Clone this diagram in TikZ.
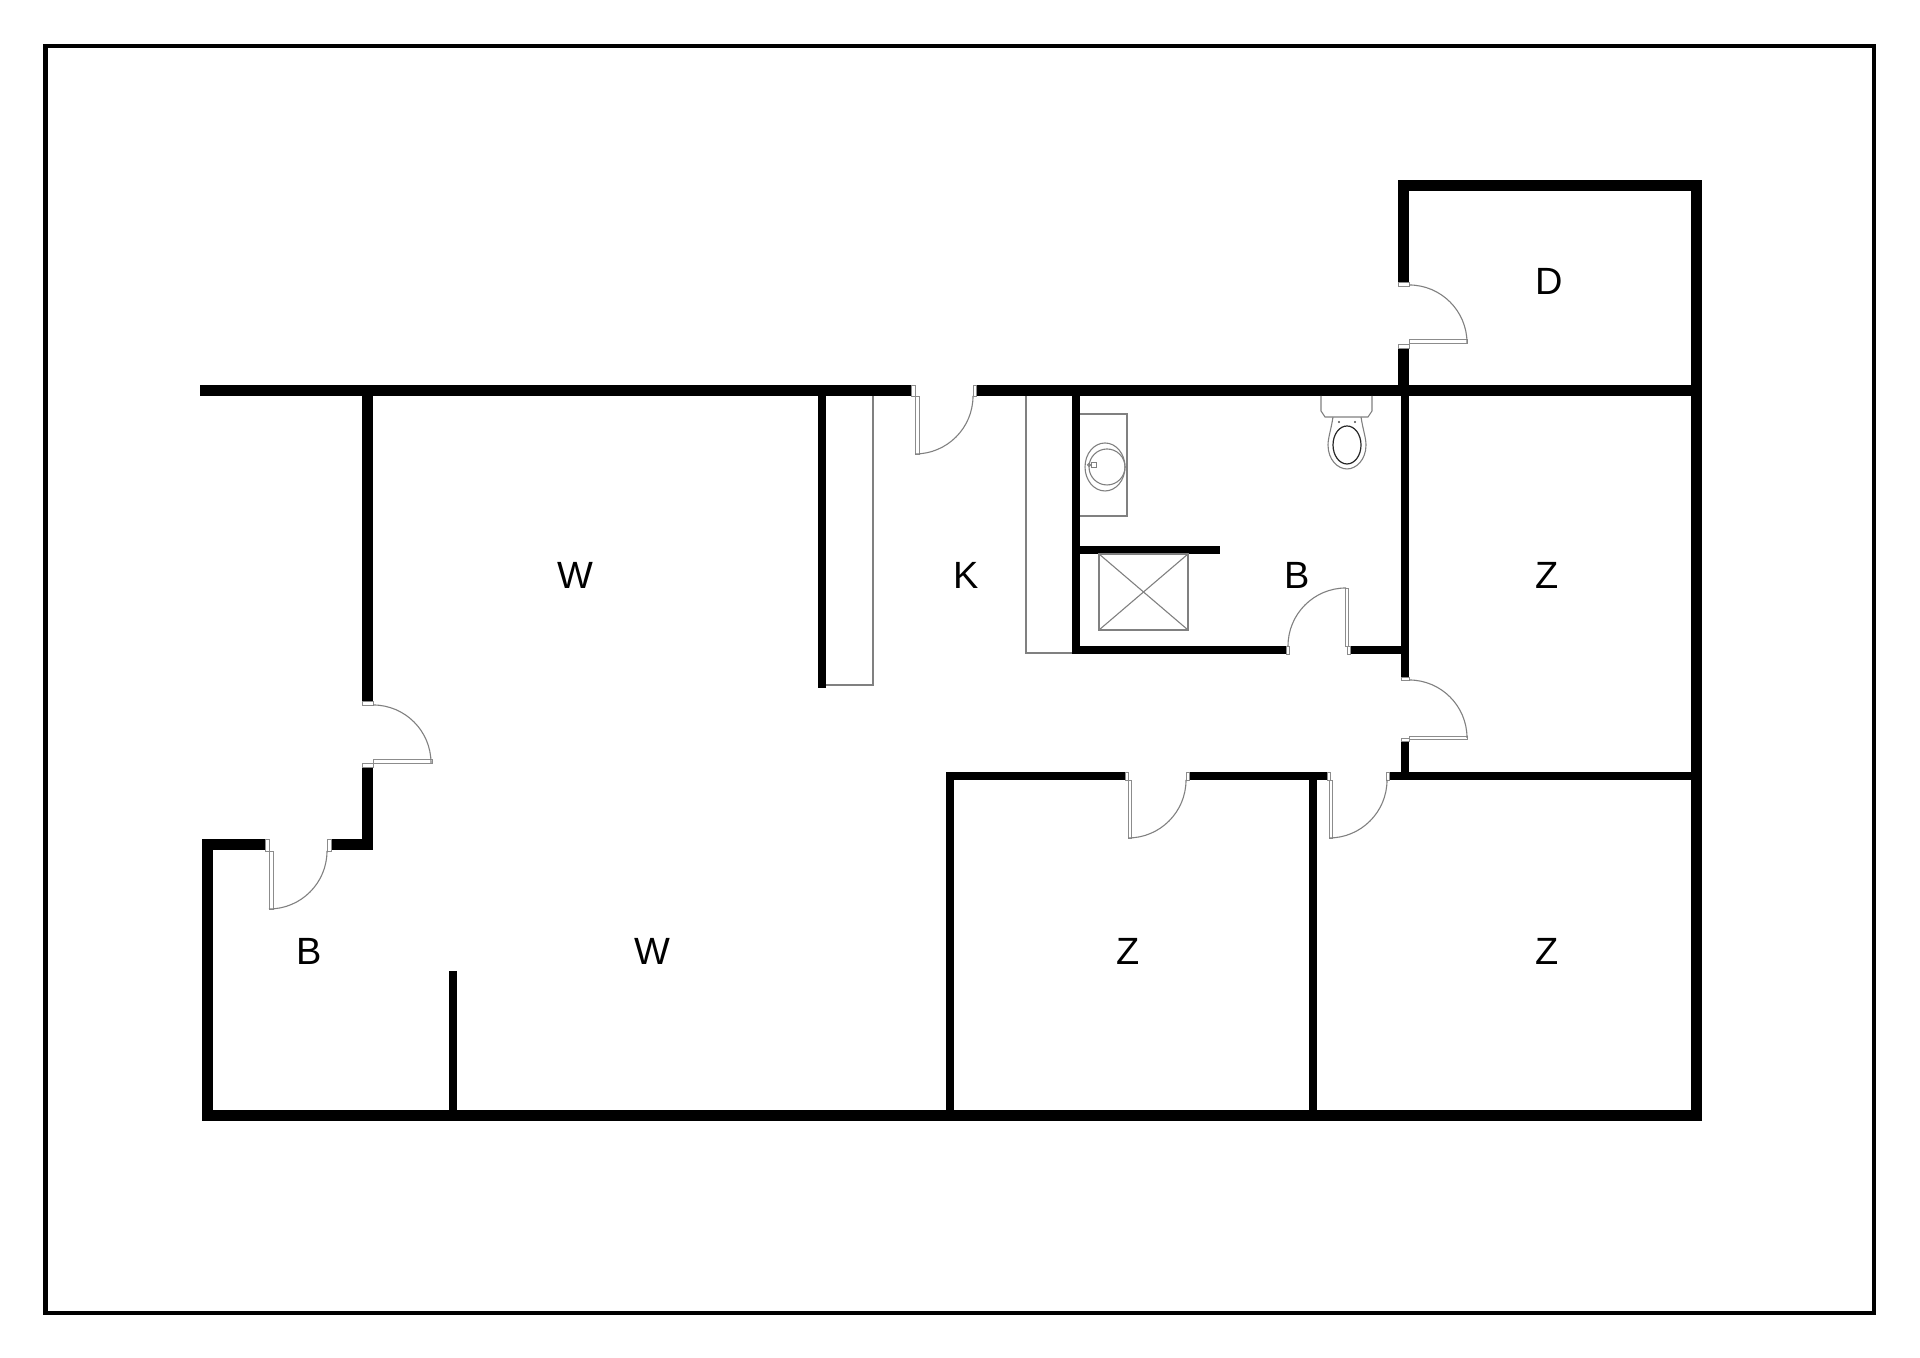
\documentclass[tikz,border=0pt]{standalone}
\usepackage{fontspec}
\setmainfont{Liberation Sans}
\tikzset{
  wall/.style={line width=0.11cm, miter limit=10},
  thinwall/.style={line width=0.08cm, miter limit=10},
  fixture/.style={line width=0.011cm, color=black!50},
  doorpart/.style={line width=0.008cm, color=black!45, fill=white},
  room/.style={font=\fontsize{10.8}{13}\selectfont, inner sep=0pt},
}
\begin{document}
\begin{tikzpicture}
\useasboundingbox (0, 0) rectangle (19.2, 13.58);
\draw[line width=0.045cm] (0.455, 0.45) rectangle (18.74, 13.12);
\draw[wall] (14.035, 10.75) -- (14.035, 11.725) -- (16.965, 11.725) -- (16.965, 2.425) -- (2.075, 2.425) -- (2.075, 5.13) -- (2.65, 5.13);
\draw[wall] (3.31, 5.13) -- (3.675, 5.13) -- (3.675, 5.91);
\draw[wall] (3.675, 6.56) -- (3.675, 9.675);
\draw[wall] (2.00, 9.675) -- (9.11, 9.675);
\draw[wall] (9.76, 9.675) -- (16.965, 9.675);
\draw[wall] (14.035, 10.10) -- (14.035, 9.675);
\draw[thinwall] (10.76, 9.675) -- (10.76, 7.08) -- (12.87, 7.08);
\draw[thinwall] (13.50, 7.08) -- (14.05, 7.08);
\draw[thinwall] (10.76, 8.08) -- (12.20, 8.08);
\draw[thinwall] (14.05, 9.675) -- (14.05, 6.80);
\draw[thinwall] (14.05, 6.17) -- (14.05, 5.82);
\draw[thinwall] (9.50, 2.425) -- (9.50, 5.82) -- (11.26, 5.82);
\draw[thinwall] (11.89, 5.82) -- (13.28, 5.82);
\draw[thinwall] (13.89, 5.82) -- (16.965, 5.82);
\draw[thinwall] (13.13, 5.82) -- (13.13, 2.425);
\draw[thinwall] (8.22, 9.675) -- (8.22, 6.70);
\draw[thinwall] (4.53, 3.87) -- (4.53, 2.425);
\draw[fixture] (8.73, 9.62) -- (8.73, 6.73) -- (8.26, 6.73);
\draw[fixture] (10.26, 9.62) -- (10.26, 7.05) -- (10.72, 7.05);
\draw[fixture] (10.80, 9.44) -- (11.27, 9.44) -- (11.27, 8.42) -- (10.80, 8.42);
\draw[fixture] (11.05, 8.91) ellipse (0.20 and 0.24);
\draw[fixture] (11.07, 8.91) circle (0.18);
\draw[fixture] (10.915, 8.905) rectangle (10.965, 8.955);
\draw[fixture] (10.89, 8.93) circle (0.015);
\draw[fixture] (10.99, 7.28) rectangle (11.88, 8.04);
\draw[fixture] (10.99, 7.28) -- (11.88, 8.04);
\draw[fixture] (10.99, 8.04) -- (11.88, 7.28);
\draw[fixture] (13.21, 9.62) -- (13.21, 9.47) -- (13.25, 9.41) -- (13.68, 9.41) -- (13.72, 9.47) -- (13.72, 9.62);
\draw[fixture] (13.33, 9.41) .. controls (13.31, 9.28) and (13.28, 9.20) .. (13.28, 9.13) .. controls (13.28, 8.98) and (13.38, 8.89) .. (13.47, 8.89) .. controls (13.56, 8.89) and (13.66, 8.98) .. (13.66, 9.13) .. controls (13.66, 9.20) and (13.63, 9.28) .. (13.61, 9.41);
\draw[line width=0.012cm, color=black!85] (13.47, 9.13) ellipse (0.14 and 0.19);
\fill[black!70] (13.39, 9.36) circle (0.012);
\fill[black!70] (13.55, 9.36) circle (0.012);
\draw[doorpart] (13.98, 10.76) rectangle (14.09, 10.72);
\draw[doorpart] (13.98, 10.14) rectangle (14.09, 10.10);
\draw[doorpart] (14.09, 10.19) rectangle (14.67, 10.15);
\draw[fixture] (14.09, 10.73) arc[start angle=90, end angle=0, radius=0.58];
\draw[doorpart] (9.11, 9.73) rectangle (9.15, 9.62);
\draw[doorpart] (9.15, 9.62) rectangle (9.19, 9.04);
\draw[fixture] (9.15, 9.04) arc[start angle=-90, end angle=0, radius=0.58];
\draw[doorpart] (9.73, 9.73) rectangle (9.76, 9.62);
\draw[doorpart] (12.865, 7.12) rectangle (12.895, 7.04);
\draw[doorpart] (13.45, 7.70) rectangle (13.48, 7.12);
\draw[doorpart] (13.47, 7.12) rectangle (13.50, 7.04);
\draw[fixture] (12.88, 7.12) arc[start angle=180, end angle=90, radius=0.58];
\draw[doorpart] (14.01, 6.81) rectangle (14.09, 6.78);
\draw[doorpart] (14.01, 6.20) rectangle (14.09, 6.17);
\draw[doorpart] (14.09, 6.22) rectangle (14.67, 6.19);
\draw[fixture] (14.09, 6.78) arc[start angle=90, end angle=0, radius=0.58];
\draw[doorpart] (13.27, 5.86) rectangle (13.30, 5.78);
\draw[doorpart] (13.29, 5.78) rectangle (13.32, 5.20);
\draw[doorpart] (13.865, 5.86) rectangle (13.895, 5.78);
\draw[fixture] (13.29, 5.20) arc[start angle=-90, end angle=0, radius=0.58];
\draw[doorpart] (11.255, 5.86) rectangle (11.285, 5.78);
\draw[doorpart] (11.28, 5.78) rectangle (11.31, 5.20);
\draw[doorpart] (11.86, 5.86) rectangle (11.89, 5.78);
\draw[fixture] (11.28, 5.20) arc[start angle=-90, end angle=0, radius=0.58];
\draw[doorpart] (3.62, 6.57) rectangle (3.73, 6.53);
\draw[doorpart] (3.62, 5.95) rectangle (3.73, 5.91);
\draw[doorpart] (3.73, 5.99) rectangle (4.32, 5.95);
\draw[fixture] (3.73, 6.53) arc[start angle=90, end angle=0, radius=0.58];
\draw[doorpart] (2.65, 5.19) rectangle (2.69, 5.07);
\draw[doorpart] (3.27, 5.19) rectangle (3.31, 5.07);
\draw[doorpart] (2.69, 5.07) rectangle (2.73, 4.49);
\draw[fixture] (2.69, 4.49) arc[start angle=-90, end angle=0, radius=0.58];
\node[room] (livingtop) at (5.75, 7.83) {W};
\node[room] (kitchen) at (9.66, 7.83) {K};
\node[room] (bathtop) at (12.97, 7.83) {B};
\node[room] (roomright) at (15.47, 7.83) {Z};
\node[room] (storage) at (15.49, 10.77) {D};
\node[room] (bathleft) at (3.09, 4.07) {B};
\node[room] (livingbottom) at (6.52, 4.07) {W};
\node[room] (roommiddle) at (11.28, 4.07) {Z};
\node[room] (roomcorner) at (15.47, 4.07) {Z};
\end{tikzpicture}
\end{document}
